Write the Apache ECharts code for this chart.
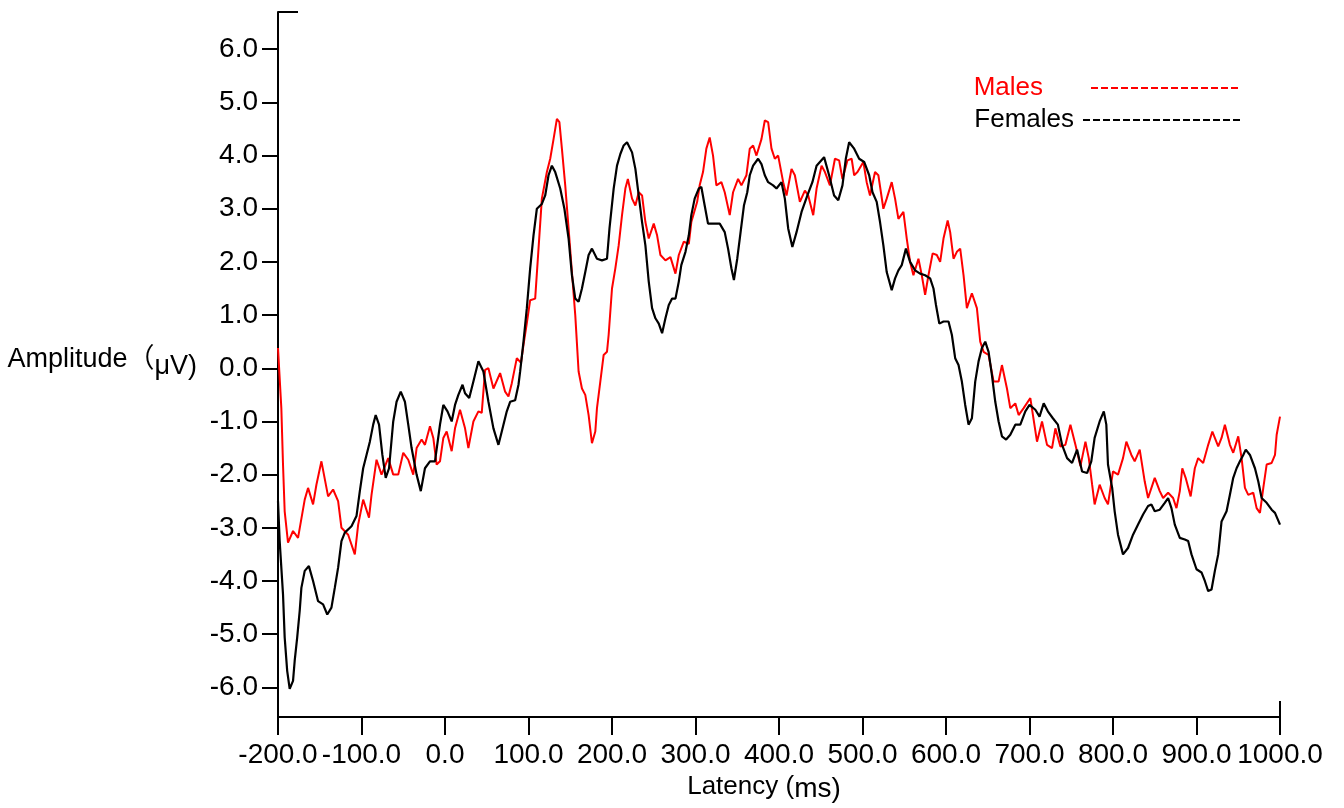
<!DOCTYPE html>
<html>
<head>
<meta charset="utf-8">
<title>ERP amplitude by sex</title>
<script src="https://cdn.jsdelivr.net/npm/echarts@6/dist/echarts.min.js"></script>
<style>
  html, body { margin: 0; padding: 0; background: #ffffff; }
  #chart { width: 1344px; height: 808px; }
</style>
</head>
<body>
<div id="chart"></div>
<script>
// Grand-average waveforms (latency in ms, amplitude in µV)
const malesLatency = [
  -200, -196, -194, -192, -188, -182, -176, -168, -164, -158, -154, -148, -140, -134, -128, -124, -116, -108, -104, -98,
  -91, -88, -82, -76, -68, -62, -56, -50, -44, -38, -34, -28, -24, -18, -14, -10, -6, -2, 2, 8,
  12, 18, 24, 28, 34, 40, 44, 48, 52, 58, 66, 72, 76, 80, 86, 91, 94, 98, 102, 108,
  112, 116, 122, 126, 130, 134, 137, 140, 144, 148, 152, 156, 160, 164, 168, 172, 176, 180, 182, 186,
  190, 194, 196, 200, 204, 208, 212, 216, 219, 224, 228, 232, 236, 240, 244, 250, 254, 258, 264, 270,
  276, 280, 286, 292, 295, 302, 305, 309, 313, 317, 321, 325, 331, 335, 341, 345, 351, 355, 361, 365,
  369, 373, 379, 383, 387, 391, 395, 399, 405, 409, 415, 419, 425, 431, 435, 441, 445, 451, 455, 461,
  467, 472, 476, 482, 487, 490, 494, 501, 505, 509, 515, 519, 525, 529, 535, 539, 543, 549, 553, 557,
  561, 567, 571, 575, 579, 584, 589, 593, 597, 602, 605, 609, 613, 617, 621, 625, 631, 637, 641, 645,
  651, 657, 663, 667, 673, 677, 683, 687, 693, 701, 709, 715, 721, 727, 731, 737, 743, 749, 755, 761,
  767, 771, 775, 778, 784, 790, 794, 800, 806, 812, 816, 822, 826, 832, 838, 842, 850, 856, 860, 866,
  872, 876, 880, 883, 887, 893, 898, 902, 908, 914, 919, 926, 930, 934, 940, 944, 950, 954, 958, 962,
  968, 972, 976, 980, 984, 990, 994, 996, 1000
];
const malesAmplitude = [
  0.38, -0.75, -1.81, -2.69, -3.28, -3.06, -3.19, -2.47, -2.25, -2.56, -2.19, -1.75, -2.41, -2.28, -2.5, -3.0, -3.13, -3.5, -2.94, -2.47,
  -2.81, -2.38, -1.72, -2.0, -1.69, -2.0, -2.0, -1.59, -1.72, -2.0, -1.5, -1.34, -1.44, -1.09, -1.31, -1.81, -1.75, -1.31, -1.19, -1.56,
  -1.13, -0.78, -1.13, -1.5, -1.0, -0.81, -0.84, -0.03, 0.0, -0.38, -0.09, -0.44, -0.53, -0.28, 0.19, 0.1, 0.44, 0.85, 1.28, 1.31,
  2.25, 3.19, 3.69, 3.94, 4.31, 4.69, 4.63, 4.13, 3.44, 2.63, 1.81, 1.0, -0.06, -0.38, -0.5, -0.88, -1.41, -1.19, -0.75, -0.25,
  0.25, 0.31, 0.63, 1.5, 1.88, 2.31, 2.88, 3.38, 3.56, 3.19, 3.06, 3.31, 3.25, 2.75, 2.44, 2.72, 2.5, 2.13, 2.03, 2.09,
  1.78, 2.13, 2.38, 2.34, 2.75, 3.13, 3.44, 3.69, 4.13, 4.34, 4.0, 3.44, 3.5, 3.31, 2.88, 3.31, 3.56, 3.44, 3.63, 4.13,
  4.19, 4.0, 4.31, 4.66, 4.63, 4.13, 3.94, 4.0, 3.5, 3.25, 3.75, 3.63, 3.13, 3.34, 3.25, 2.88, 3.38, 3.81, 3.69, 3.44,
  3.94, 3.91, 3.56, 3.91, 3.94, 3.63, 3.69, 3.88, 3.5, 3.25, 3.69, 3.63, 3.0, 3.19, 3.5, 3.19, 2.81, 2.94, 2.44, 2.0,
  1.75, 2.06, 1.75, 1.38, 1.75, 2.16, 2.13, 2.0, 2.44, 2.78, 2.56, 2.06, 2.19, 2.25, 1.75, 1.13, 1.41, 1.13, 0.5, 0.31,
  0.25, -0.25, -0.25, 0.06, -0.38, -0.75, -0.66, -0.88, -0.75, -0.56, -1.38, -1.0, -1.44, -1.5, -1.13, -1.47, -1.44, -1.06, -1.44, -1.84,
  -1.38, -1.69, -2.19, -2.56, -2.19, -2.44, -2.56, -1.94, -2.0, -1.69, -1.38, -1.63, -1.75, -1.53, -2.13, -2.44, -2.06, -2.31, -2.44, -2.34,
  -2.44, -2.63, -2.31, -1.88, -2.06, -2.41, -1.88, -1.69, -1.78, -1.44, -1.19, -1.47, -1.31, -1.06, -1.44, -1.59, -1.28, -1.69, -2.25, -2.38,
  -2.34, -2.63, -2.72, -2.25, -1.81, -1.78, -1.63, -1.25, -0.91
];

const femalesLatency = [
  -200, -198, -194, -192, -189, -186, -182, -180, -177, -174, -172, -168, -163, -158, -152, -146, -141, -136, -132, -128,
  -124, -120, -112, -106, -102, -98, -94, -90, -86, -83, -79, -75, -71, -67, -62, -58, -53, -48, -44, -40,
  -34, -29, -24, -18, -12, -6, -2, 3, 8, 12, 16, 21, 24, 29, 34, 40, 46, 52, 58, 64,
  68, 74, 78, 84, 88, 90, 94, 98, 102, 106, 110, 116, 120, 124, 128, 132, 138, 143, 148, 152,
  156, 160, 164, 168, 172, 176, 182, 188, 194, 197, 202, 206, 210, 214, 218, 224, 228, 232, 236, 240,
  244, 248, 252, 256, 260, 264, 268, 272, 276, 280, 283, 288, 292, 295, 299, 304, 307, 311, 315, 321,
  329, 335, 339, 343, 346, 350, 354, 358, 362, 365, 369, 375, 379, 383, 387, 393, 397, 403, 407, 411,
  416, 421, 427, 434, 440, 445, 454, 460, 466, 471, 476, 480, 484, 490, 496, 502, 508, 512, 517, 521,
  525, 529, 535, 539, 543, 547, 552, 557, 563, 569, 575, 581, 585, 588, 592, 597, 603, 607, 611, 615,
  619, 623, 627, 631, 635, 639, 643, 647, 651, 655, 659, 663, 667, 672, 677, 683, 689, 695, 700, 707,
  712, 717, 722, 728, 734, 739, 745, 751, 757, 763, 769, 774, 778, 784, 789, 792, 794, 799, 802, 806,
  812, 818, 824, 830, 836, 842, 846, 850, 856, 862, 866, 870, 874, 880, 886, 890, 894, 900, 906, 910,
  914, 918, 922, 926, 930, 936, 940, 944, 948, 952, 956, 959, 964, 970, 974, 978, 984, 990, 994, 1000
];
const femalesAmplitude = [
  -2.5, -3.25, -4.25, -5.06, -5.69, -6.03, -5.88, -5.5, -5.06, -4.56, -4.13, -3.81, -3.72, -4.0, -4.38, -4.44, -4.63, -4.5, -4.13, -3.75,
  -3.25, -3.09, -2.97, -2.78, -2.31, -1.88, -1.63, -1.38, -1.06, -0.88, -1.06, -1.63, -2.06, -1.88, -1.0, -0.63, -0.44, -0.63, -1.06, -1.5,
  -2.0, -2.31, -1.88, -1.75, -1.75, -1.06, -0.69, -0.81, -1.0, -0.69, -0.5, -0.31, -0.47, -0.56, -0.25, 0.13, -0.06, -0.63, -1.13, -1.44,
  -1.19, -0.81, -0.63, -0.6, -0.31, -0.06, 0.5, 1.13, 1.88, 2.5, 3.0, 3.09, 3.25, 3.63, 3.81, 3.69, 3.38, 3.0, 2.44, 1.75,
  1.31, 1.25, 1.5, 1.81, 2.13, 2.25, 2.06, 2.03, 2.06, 2.63, 3.38, 3.81, 4.03, 4.19, 4.25, 4.06, 3.75, 3.25, 2.75, 2.31,
  1.63, 1.13, 0.94, 0.84, 0.66, 0.94, 1.19, 1.31, 1.31, 1.63, 1.94, 2.19, 2.5, 2.88, 3.19, 3.38, 3.41, 3.06, 2.72, 2.72,
  2.72, 2.56, 2.25, 1.88, 1.66, 2.06, 2.56, 3.06, 3.31, 3.63, 3.81, 3.94, 3.84, 3.63, 3.5, 3.44, 3.38, 3.5, 3.19, 2.63,
  2.28, 2.56, 2.94, 3.25, 3.5, 3.81, 3.97, 3.63, 3.25, 3.16, 3.44, 3.94, 4.25, 4.13, 3.94, 3.88, 3.63, 3.31, 3.13, 2.75,
  2.31, 1.81, 1.47, 1.69, 1.84, 1.94, 2.25, 2.0, 1.84, 1.78, 1.75, 1.69, 1.5, 1.19, 0.84, 0.88, 0.88, 0.63, 0.19, 0.06,
  -0.25, -0.69, -1.06, -0.94, -0.25, 0.13, 0.38, 0.5, 0.31, -0.13, -0.63, -1.0, -1.28, -1.34, -1.25, -1.06, -1.06, -0.81, -0.69, -0.78,
  -0.91, -0.66, -0.81, -0.94, -1.06, -1.44, -1.69, -1.78, -1.53, -1.94, -1.97, -1.75, -1.31, -1.0, -0.81, -1.06, -1.81, -2.25, -2.69, -3.13,
  -3.5, -3.38, -3.13, -2.94, -2.75, -2.59, -2.56, -2.69, -2.66, -2.53, -2.44, -2.63, -2.94, -3.19, -3.22, -3.25, -3.5, -3.78, -3.84, -4.0,
  -4.19, -4.16, -3.81, -3.5, -2.88, -2.69, -2.38, -2.06, -1.88, -1.75, -1.63, -1.53, -1.63, -1.88, -2.13, -2.44, -2.53, -2.66, -2.72, -2.94
];

// Axis tick values
const latencyTicks = [-200, -100, 0, 100, 200, 300, 400, 500, 600, 700, 800, 900, 1000];
const amplitudeTicks = [-6, -5, -4, -3, -2, -1, 0, 1, 2, 3, 4, 5, 6];
const amplitudeMin = -6.56;
const amplitudeMax = 6.70;

const FONT = "'Liberation Sans', Arial, 'Noto Sans CJK SC', sans-serif";

function zip(xs, ys) {
  return xs.map((x, i) => [x, ys[i]]);
}

const chart = echarts.init(document.getElementById('chart'), null, { renderer: 'canvas' });

const axisStroke = { color: '#000000', width: 2 };

chart.setOption({
  animation: false,
  backgroundColor: '#ffffff',
  textStyle: { fontFamily: FONT },
  grid: { left: 278, right: 64, top: 12, bottom: 86, containLabel: false },
  legend: [
    {
      data: [{ name: 'Males', textStyle: { color: '#ff0000' } }],
      right: 97, top: 70, orient: 'vertical', align: 'right',
      itemWidth: 150, itemHeight: 14,
      lineStyle: { type: [7, 3], width: 2 },
      itemStyle: { opacity: 0 },
      textStyle: { fontSize: 26, fontFamily: FONT, padding: [0, 43, 0, 0] },
      selectedMode: false
    },
    {
      data: [{ name: 'Females', textStyle: { color: '#000000' } }],
      right: 97, top: 102, orient: 'vertical', align: 'right',
      itemWidth: 158, itemHeight: 14,
      lineStyle: { type: [7, 3], width: 2 },
      itemStyle: { opacity: 0 },
      textStyle: { fontSize: 26, fontFamily: FONT, padding: [0, 4, 0, 0] },
      selectedMode: false
    }
  ],
  xAxis: {
    type: 'value',
    min: -200, max: 1000, interval: 100,
    name: '{a|Latency (}{b|ms)}',
    nameLocation: 'middle',
    nameGap: 46,
    nameTextStyle: {
      padding: [0, 30, 0, 0],
      rich: {
        a: { fontSize: 26, fontFamily: FONT, color: '#000' },
        b: { fontSize: 28, fontFamily: FONT, color: '#000', padding: [4, 0, 0, 0] }
      }
    },
    splitLine: { show: false },
    axisLine: { onZero: false, lineStyle: axisStroke },
    axisTick: { length: 18, lineStyle: axisStroke },
    axisLabel: {
      margin: 24, fontSize: 28, color: '#000', fontFamily: FONT,
      formatter: v => v.toFixed(1)
    }
  },
  yAxis: {
    type: 'value',
    min: amplitudeMin, max: amplitudeMax,
    name: '{a|Amplitude（}{b|μV)}',
    nameLocation: 'middle',
    nameRotate: 0,
    nameGap: 81,
    nameTextStyle: {
      padding: [0, 0, 8, 0],
      rich: {
        a: { fontSize: 27, fontFamily: FONT, color: '#000', padding: [0, 0, 2, 0] },
        b: { fontSize: 27, fontFamily: FONT, color: '#000', padding: [12, 0, 0, 0] }
      }
    },
    splitLine: { show: false },
    axisLine: { onZero: false, lineStyle: axisStroke },
    axisTick: { length: 16, lineStyle: axisStroke, customValues: amplitudeTicks },
    axisLabel: {
      margin: 20, fontSize: 28, color: '#000', fontFamily: FONT,
      customValues: amplitudeTicks,
      formatter: v => v.toFixed(1)
    }
  },
  series: [
    {
      name: 'Males', type: 'line', symbol: 'none', smooth: false,
      data: zip(malesLatency, malesAmplitude),
      lineStyle: { color: '#ff0000', width: 2 },
      itemStyle: { color: '#ff0000' },
      z: 2
    },
    {
      name: 'Females', type: 'line', symbol: 'none', smooth: false,
      data: zip(femalesLatency, femalesAmplitude),
      lineStyle: { color: '#000000', width: 2.2 },
      itemStyle: { color: '#000000' },
      z: 3
    }
  ]
});

// Axis decorations: a short cap at the top of the amplitude axis and
// the upward half of the tick at the right end of the latency axis.
const topLeft = chart.convertToPixel({ xAxisIndex: 0, yAxisIndex: 0 }, [latencyTicks[0], amplitudeMax]);
const bottomRight = chart.convertToPixel({ xAxisIndex: 0, yAxisIndex: 0 }, [latencyTicks[latencyTicks.length - 1], amplitudeMin]);
chart.setOption({
  graphic: [
    {
      type: 'line',
      shape: { x1: topLeft[0], y1: topLeft[1], x2: topLeft[0] + 20, y2: topLeft[1] },
      style: { stroke: '#000', lineWidth: 2 }
    },
    {
      type: 'line',
      shape: { x1: bottomRight[0], y1: bottomRight[1], x2: bottomRight[0], y2: bottomRight[1] - 16 },
      style: { stroke: '#000', lineWidth: 2 }
    }
  ]
});
</script>
</body>
</html>
